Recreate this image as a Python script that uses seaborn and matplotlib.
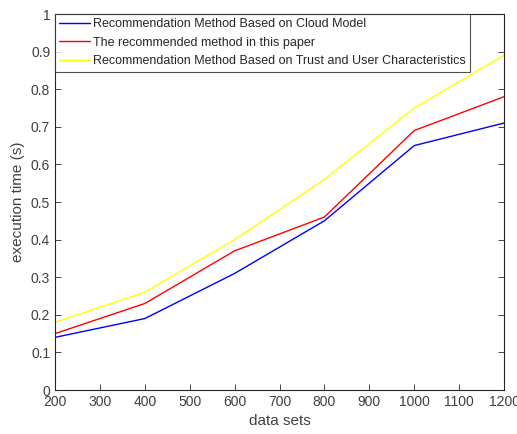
import matplotlib
matplotlib.use('Agg')
import matplotlib.pyplot as plt
import pandas as pd
import seaborn as sns

# data
data_sets = [200, 400, 600, 800, 1000, 1200]
cloud_model = [0.14, 0.19, 0.31, 0.45, 0.65, 0.71]
this_paper = [0.15, 0.23, 0.37, 0.46, 0.69, 0.78]
trust_user = [0.18, 0.26, 0.40, 0.56, 0.75, 0.89]

labels = ['Recommendation Method Based on Cloud Model',
          'The recommended method in this paper',
          'Recommendation Method Based on Trust and User Characteristics']
colors = ['#0000ff', '#ff0000', '#ffff00']

df = pd.DataFrame({'data sets': data_sets * 3,
                   'time': cloud_model + this_paper + trust_user,
                   'method': [labels[0]] * 6 + [labels[1]] * 6 + [labels[2]] * 6})

sns.set_style('white')
plt.rcParams['font.family'] = ['Liberation Sans', 'DejaVu Sans']

fig = plt.figure(figsize=(5.17, 4.34), dpi=100)
ax = fig.add_axes([55 / 517, 44 / 434, 449 / 517, 376 / 434])

sns.lineplot(data=df, x='data sets', y='time', hue='method',
             palette=colors, linewidth=1, ax=ax)

ax.set_xlim(200, 1200)
ax.set_ylim(0, 1)
ax.set_xticks(range(200, 1201, 100))
ax.set_yticks([i / 10 for i in range(11)])
ax.set_yticklabels(['0', '0.1', '0.2', '0.3', '0.4', '0.5', '0.6', '0.7', '0.8', '0.9', '1'])
ax.tick_params(direction='in', length=4, width=0.6, colors='#262626',
               labelsize=10, top=False, right=True, left=True, bottom=True,
               labelcolor='#404040')
for s in ax.spines.values():
    s.set_color('#262626')
    s.set_linewidth(0.8)
ax.set_xlabel('data sets', fontsize=11, color='#404040')
ax.set_ylabel('execution time (s)', fontsize=11, color='#404040')

leg = ax.legend(loc='upper left', fontsize=9, frameon=True, fancybox=False,
                borderaxespad=0, handlelength=2.5, borderpad=0.32,
                labelspacing=0.54, handletextpad=0.25)
leg.get_frame().set_edgecolor('#262626')
leg.get_frame().set_linewidth(0.8)

fig.savefig('out.png', dpi=100)
